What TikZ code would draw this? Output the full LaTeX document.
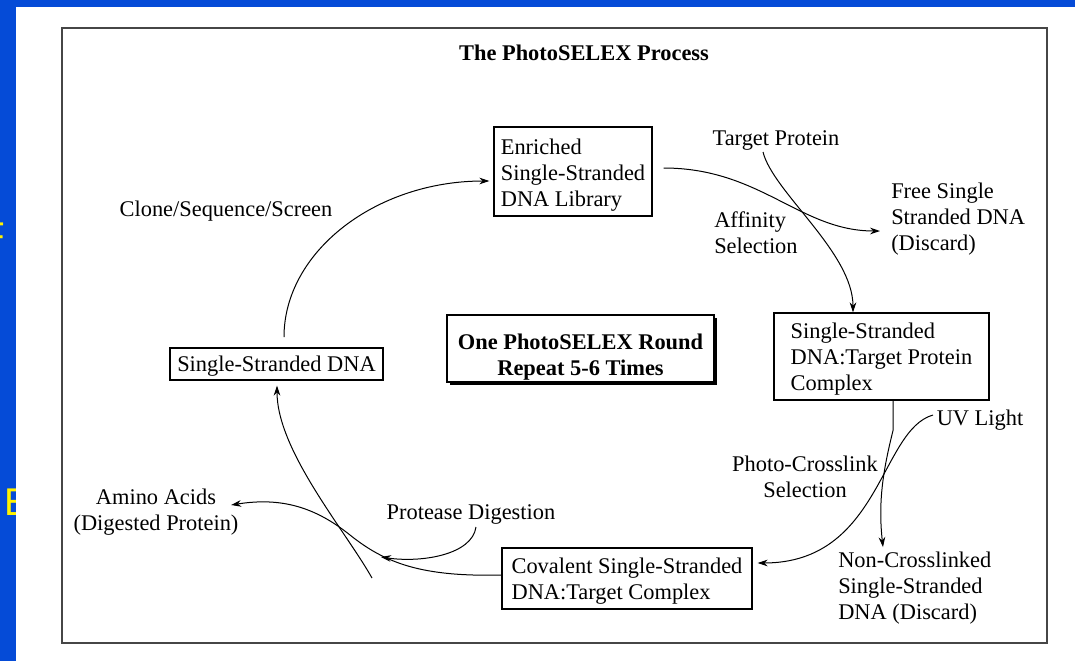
\documentclass[tikz,border=0pt]{standalone}
\usepackage{fontspec}
\setmainfont{Liberation Serif}
\newfontfamily\slidefont{Liberation Sans}
\usepackage{tikz}
\usetikzlibrary{arrows.meta,calc,shadows}
\definecolor{slideblue}{RGB}{5,75,215}
\definecolor{framegray}{RGB}{70,70,70}
\newcommand{\fs}{\fontsize{16.8}{19.5}\selectfont}
\newcommand{\lift}[1]{\rule{0pt}{#1}}

\begin{document}
\begin{tikzpicture}[x=0.75pt,y=-0.75pt,
  txt/.style={inner sep=0pt,align=left,font=\fs},
  box/.style={draw,line width=0.9pt,inner sep=0pt,align=left,font=\fs},
  slideletter/.style={anchor=base west,inner sep=0pt,text=yellow,font=\slidefont\fontsize{29}{30}\selectfont},
  link/.style={line width=0.75pt,-{Stealth[length=7.5pt,width=5pt]}}]
\useasboundingbox (0,0) rectangle (1075,661);
\fill[slideblue] (0,0) rectangle (1075,661);
\node[slideletter] (lf) at (-19,249.5) {F};
\node[slideletter] (le) at (4,515) {E};
\fill[white] (16,7) rectangle (1075,661);
\draw[framegray,line width=1.5pt] (62,28) rectangle (1047,643);

\node[txt,font=\fs\bfseries] (title) at (584,52.5) {The PhotoSELEX Process};
\node[box,minimum width=118.5pt,minimum height=66.75pt] (enriched) at (573,171.5) {\lift{17pt}Enriched\\Single-Stranded\\DNA Library};
\node[box,minimum width=161.25pt,minimum height=65.25pt] (cplx) at (881.5,356.5) {\lift{16pt}Single-Stranded\\DNA:Target Protein\\Complex};
\node[box,minimum width=187.5pt,minimum height=45.75pt] (covalent) at (627,578.5) {\lift{15pt}Covalent Single-Stranded\\DNA:Target Complex};
\node[box,minimum width=159.75pt,minimum height=24pt] (ssdna) at (276.5,364) {\lift{14.5pt}Single-Stranded DNA};
\node[box,font=\fs\bfseries,align=center,fill=white,minimum width=200.25pt,minimum height=50.25pt,
  drop shadow={shadow xshift=2.5pt,shadow yshift=-2.5pt,opacity=1,fill=black}] (round) at (580.5,348.5) {\lift{24pt}One PhotoSELEX Round\\Repeat 5-6 Times};

\node[txt] (target) at (776,140.5) {Target Protein};
\node[txt,anchor=west] (free) at (891,219) {Free Single\\Stranded DNA\\(Discard)};
\node[txt,anchor=west] (affinity) at (714,233) {Affinity\\Selection};
\node[txt,align=center] (photo) at (805,477) {Photo-Crosslink\\Selection};
\node[txt] (uv) at (980,420.5) {UV Light};
\node[txt,anchor=west] (noncross) at (838,588.5) {Non-Crosslinked\\Single-Stranded\\DNA (Discard)};
\node[txt] (protease) at (471,514) {Protease Digestion};
\node[txt,align=center] (amino) at (156,512) {Amino Acids\\(Digested Protein)};
\node[txt] (clone) at (226,211.5) {Clone/Sequence/Screen};

\coordinate (cl) at (284,337);
\coordinate (tp) at (763,152);
\coordinate (uvl) at (933,415);
\coordinate (pd) at (476,527);
\coordinate (pa) at (381,557);
\coordinate (cut) at (372,578);

\draw[link] (cl) .. controls +(0,-85) and +(-114,0) .. ($(enriched.west)+(-4,9.5)$);
\draw[link] ($(enriched.east)+(11,-3.5)$) .. controls +(97,0) and +(-80,0) .. ($(free.west)+(-11,12)$);
\draw[link] (tp) .. controls +(10,40) and +(0,-60) .. ($(cplx.north)+(-28.5,0)$);
\draw[link] ($(cplx.south)+(11.5,0)$) -- ++(0,30) .. controls +(-10,40) and +(-5,-45) .. ($(noncross.north west)+(45,-5)$);
\draw[link] (uvl) .. controls +(-53,15) and +(123,0) .. ($(covalent.east)+(5,-15.5)$);
\draw[link] ($(covalent.west)+(0,-3.5)$) .. controls +(-80,2) and +(35,28) .. (350,535) .. controls +(-35,-28) and +(50,-8) .. ($(amino.east)+(-7.5,-7)$);
\draw[link] (pd) .. controls +(-4,28) and +(40,6) .. (pa);
\draw[link] (cut) .. controls +(-27,-48) and +(0,65) .. ($(ssdna.south)+(0.5,5)$);
\end{tikzpicture}
\end{document}
